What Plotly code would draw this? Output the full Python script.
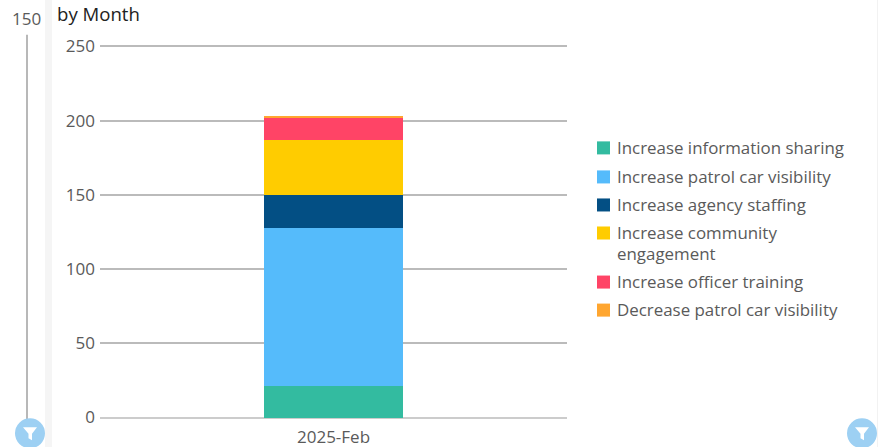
import plotly.graph_objects as go

W, H = 878, 447
L, R, T, B = 100, 567, 45.25, 418.75

period = ["2025-Feb"]
series_names = ["Increase information sharing", "Increase patrol car visibility",
                "Increase agency staffing", "Increase community<br>engagement",
                "Increase officer training", "Decrease patrol car visibility"]
series_colors = ["#33BBA0", "#55BBFB", "#034F84", "#FFCC00", "#FF4466", "#FFA630"]
info_sharing = [21]
patrol_visibility = [107]
agency_staffing = [22]
community_engagement = [37]
officer_training = [15]
decrease_patrol = [1]
all_values = [info_sharing, patrol_visibility, agency_staffing,
              community_engagement, officer_training, decrease_patrol]
y_ticks = [0, 50, 100, 150, 200, 250]
legend_rows = [148, 177, 205, 233, 282, 310]

FONT = "Open Sans"
TXT = "#5A5A5A"

def px(x):
    return (x - L) / (R - L)

def py(y):
    return (B - y) / (B - T)

fig = go.Figure()
for name, color, vals in zip(series_names, series_colors, all_values):
    fig.add_trace(go.Bar(x=period, y=vals, name=name.replace("<br>", " "),
                         marker=dict(color=color, line=dict(width=0)), width=0.298, showlegend=False))

shapes = []
shapes.append(dict(type="rect", xref="paper", yref="paper", x0=px(45), x1=px(52), y0=py(H), y1=py(0),
                   fillcolor="#F5F5F5", line_width=0, layer="below"))
shapes.append(dict(type="line", xref="paper", yref="paper", x0=px(877.5), x1=px(877.5), y0=py(H), y1=py(0),
                   line=dict(color="#F2F2F2", width=1), layer="below"))
shapes.append(dict(type="line", xref="paper", yref="paper", x0=px(27), x1=px(27), y0=py(35), y1=py(425),
                   line=dict(color="#B8B8B8", width=2), layer="below"))

def funnel(cx, cy):
    pts = [(-7, -6), (7, -6), (2, 0.5), (2, 7), (-1.5, 5), (-1.5, 0.5)]
    d = "M" + " L".join(f"{px(cx + a):.5f},{py(cy + b):.5f}" for a, b in pts) + " Z"
    return dict(type="path", xref="paper", yref="paper", path=d, fillcolor="#FFFFFF", line_width=0)

for cx, cy in [(30, 433), (862, 433)]:
    shapes.append(dict(type="circle", xref="paper", yref="paper", x0=px(cx - 15), x1=px(cx + 15),
                       y0=py(cy + 15), y1=py(cy - 15), fillcolor="#9DD0F3", line_width=0))
    shapes.append(funnel(cx, cy))

annotations = [
    dict(text="by Month", xref="paper", yref="paper", x=px(55), y=py(14), xanchor="left", yanchor="middle",
         showarrow=False, font=dict(family=FONT, size=18.6, color="#222222")),
    dict(text="150", xref="paper", yref="paper", x=px(26.5), y=py(18.5), xanchor="center", yanchor="middle",
         showarrow=False, font=dict(family=FONT, size=17, color=TXT)),
]

for name, color, row in zip(series_names, series_colors, legend_rows):
    shapes.append(dict(type="rect", xref="paper", yref="paper", x0=px(597), x1=px(610),
                       y0=py(row + 6.5), y1=py(row - 6.5), fillcolor=color, line_width=0))
    for i, line in enumerate(name.split("<br>")):
        annotations.append(dict(text=line, xref="paper", yref="paper", x=px(615), y=py(row - 14 + 21 * i),
                                xanchor="left", yanchor="top", align="left", showarrow=False,
                                font=dict(family=FONT, size=16.9, color=TXT)))

fig.update_layout(
    width=W, height=H, barmode="stack", showlegend=False,
    margin=dict(l=L, r=W - R, t=T, b=H - B, pad=0, autoexpand=False),
    paper_bgcolor="#FFFFFF", plot_bgcolor="#FFFFFF",
    font=dict(family=FONT, size=17, color=TXT),
    shapes=shapes, annotations=annotations,
    xaxis=dict(type="category", showgrid=False, ticks="", showline=False, zeroline=False,
               ticklabelstandoff=6, tickfont=dict(family=FONT, size=17, color=TXT)),
    yaxis=dict(range=[-1, 251], tickvals=y_ticks, showgrid=True, gridcolor="#BBBBBB", gridwidth=2,
               zeroline=True, zerolinecolor="#CCCCCC", zerolinewidth=2, ticks="", showline=False,
               ticklabelstandoff=4, tickfont=dict(family=FONT, size=17, color=TXT)),
)
fig.write_html("out.html", post_script="document.body.style.margin='0';", config=dict(displayModeBar=False))
